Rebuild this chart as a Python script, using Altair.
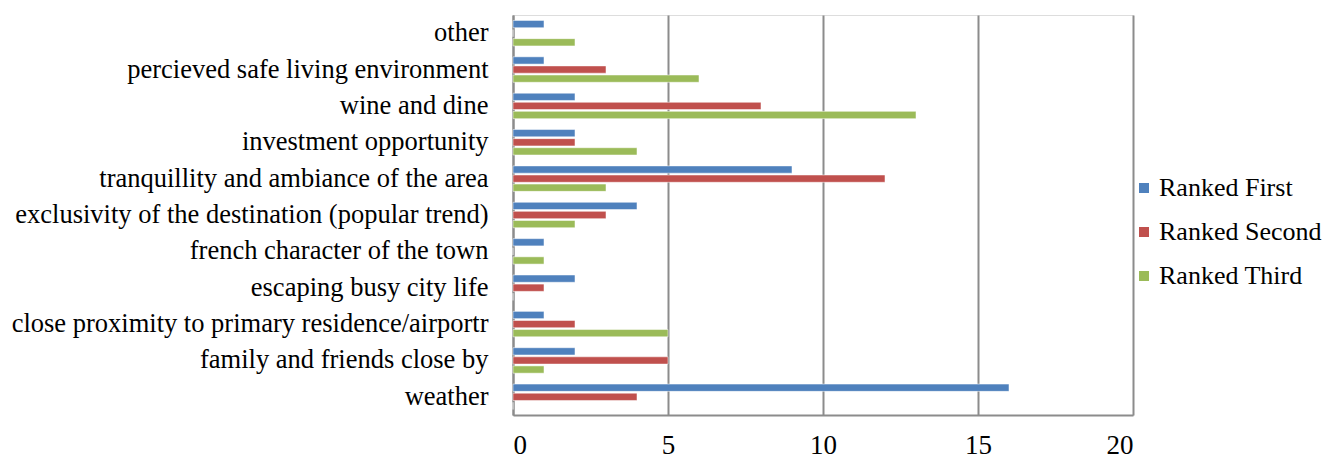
import altair as alt
import pandas as pd

categories = [
    "other",
    "percieved safe living environment",
    "wine and dine",
    "investment opportunity",
    "tranquillity and ambiance of the area",
    "exclusivity of the destination (popular trend)",
    "french character of the town",
    "escaping busy city life",
    "close proximity to primary residence/airportr",
    "family and friends close by",
    "weather",
]
series = ["Ranked First", "Ranked Second", "Ranked Third"]
ranked_first = [1, 1, 2, 2, 9, 4, 1, 2, 1, 2, 16]
ranked_second = [0, 3, 8, 2, 12, 3, 0, 1, 2, 5, 4]
ranked_third = [2, 6, 13, 4, 3, 2, 1, 0, 5, 1, 0]
colors = ["#4F81BD", "#C0504D", "#9BBB59"]
x_ticks = [0, 5, 10, 15, 20]

rows = []
for s, vals in zip(series, [ranked_first, ranked_second, ranked_third]):
    for c, v in zip(categories, vals):
        rows.append({"category": c, "series": s, "value": v})
df = pd.DataFrame(rows)

FONT = "Liberation Serif"

chart = alt.Chart(df).mark_bar(stroke="white", strokeWidth=0.5).encode(
    y=alt.Y("category:N", sort=categories,
            scale=alt.Scale(paddingInner=0.3, paddingOuter=0.15),
            axis=alt.Axis(title=None, ticks=False, labelFontSize=26.5, labelFont=FONT,
                          labelColor="black", labelPadding=25, domainColor="#8c8c8c",
                          domainWidth=2, labelLimit=700)),
    yOffset=alt.YOffset("series:N", sort=series, scale=alt.Scale(paddingInner=0.2)),
    x=alt.X("value:Q", scale=alt.Scale(domain=[0, 20]),
            axis=alt.Axis(title=None, values=x_ticks, ticks=False, labelFontSize=27,
                          labelFont=FONT, labelColor="black", labelPadding=17,
                          gridColor="#8c8c8c", gridWidth=2, domainColor="#8c8c8c",
                          domainWidth=2)),
    color=alt.Color("series:N", sort=series,
                    scale=alt.Scale(domain=series, range=colors),
                    legend=alt.Legend(title=None, orient="none", legendX=618, legendY=160,
                                      symbolType="square", symbolSize=100,
                                      symbolStrokeWidth=0, labelFontSize=26,
                                      labelFont=FONT, labelColor="black", labelLimit=300,
                                      rowPadding=18, labelOffset=2)),
).properties(width=620, height=400)

chart = chart.configure_view(stroke=None).configure(padding={"left": 11, "top": 15, "right": 5, "bottom": 5})

chart.save("out.html", embed_options={"renderer": "svg", "actions": False})
